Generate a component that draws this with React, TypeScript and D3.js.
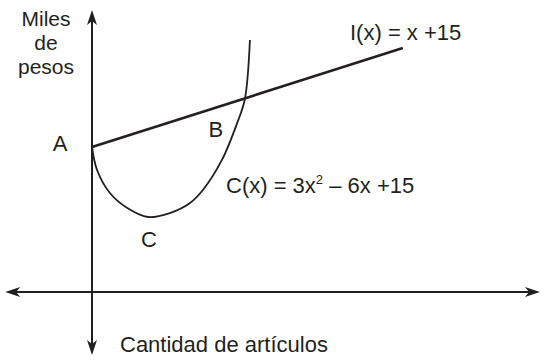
import React from "react";
import * as d3 from "d3";

const W = 545;
const H = 361;

// Schematic values (x: cantidad de artículos, y: miles de pesos)
const costX = [0, 0.09, 0.32, 0.63, 1.0, 1.39, 1.75, 1.98, 2.32, 2.6, 2.73, 2.82];
const costY = [15, 12.62, 10.24, 8.69, 7.76, 8.17, 9.21, 10.55, 13.66, 17.6, 19.97, 26.07];
const incomeX = [0, 5.55];
const incomeY = [15, 25.24];
const xAxisExtent = [-1.55, 8.0];
const yAxisExtent = [-6.52, 29.17];
const pointNames = ["A", "B", "C"];
const pointX = [0, 2.73, 1.0];
const pointY = [15, 19.97, 7.76];

const FONT = "'Liberation Sans', Arial, Helvetica, sans-serif";
const INK = "#231f20";

const x = d3.scaleLinear().domain([0, 1]).range([92, 148]);
const y = d3.scaleLinear().domain([0, 15]).range([292, 147]);

function Arrow({ px, py, angle }: { px: number; py: number; angle: number }) {
  const L = 15, w = 10, notch = 4;
  const d = `M0,0 L${-w / 2},${L} L0,${L - notch} L${w / 2},${L} Z`;
  return <path d={d} fill={INK} transform={`translate(${px},${py}) rotate(${angle})`} />;
}

export default function App() {
  const costPts: [number, number][] = costX.map((v, i) => [v, costY[i]]);
  const incomePts: [number, number][] = incomeX.map((v, i) => [v, incomeY[i]]);
  const line = d3
    .line<[number, number]>()
    .x((d) => x(d[0]))
    .y((d) => y(d[1]))
    .curve(d3.curveCatmullRom.alpha(0.5));
  const straight = d3
    .line<[number, number]>()
    .x((d) => x(d[0]))
    .y((d) => y(d[1]));

  const x0 = x(0);
  const y0 = y(0);
  const xl = x(xAxisExtent[0]);
  const xr = x(xAxisExtent[1]);
  const yt = y(yAxisExtent[1]);
  const yb = y(yAxisExtent[0]);

  const labelOffsets: [number, number][] = [
    [-32, 4],
    [-29, 38],
    [1, 30],
  ];

  return (
    <div style={{ position: "absolute", left: 0, top: 0 }}>
      <svg width={W} height={H} style={{ display: "block", background: "#fff" }}>
        <line x1={xl + 6} y1={y0} x2={xr - 6} y2={y0} stroke={INK} strokeWidth={2} />
        <line x1={x0} y1={yt + 6} x2={x0} y2={yb - 6} stroke={INK} strokeWidth={2} />
        <Arrow px={xl} py={y0} angle={-90} />
        <Arrow px={xr} py={y0} angle={90} />
        <Arrow px={x0} py={yt} angle={0} />
        <Arrow px={x0} py={yb} angle={180} />

        <path d={line(costPts) || ""} fill="none" stroke={INK} strokeWidth={1.8} />
        <path d={straight(incomePts) || ""} fill="none" stroke={INK} strokeWidth={2.6} />

        <g fontFamily={FONT} fontSize={22} fill={INK}>
          {pointNames.map((n, i) => (
            <text
              key={n}
              x={x(pointX[i]) + labelOffsets[i][0]}
              y={y(pointY[i]) + labelOffsets[i][1]}
              textAnchor="middle"
            >
              {n}
            </text>
          ))}
          <text x={350} y={40}>I(x) = x +15</text>
          <text x={226} y={193}>
            C(x) = 3x<tspan fontSize={13} dy={-9}>2</tspan>
            <tspan dy={9}> – 6x +15</tspan>
          </text>
          <text x={46} y={26} fontSize={21} textAnchor="middle">Miles</text>
          <text x={46} y={50} fontSize={21} textAnchor="middle">de</text>
          <text x={46} y={74} fontSize={21} textAnchor="middle">pesos</text>
          <text x={120} y={352}>Cantidad de artículos</text>
        </g>
      </svg>
    </div>
  );
}
